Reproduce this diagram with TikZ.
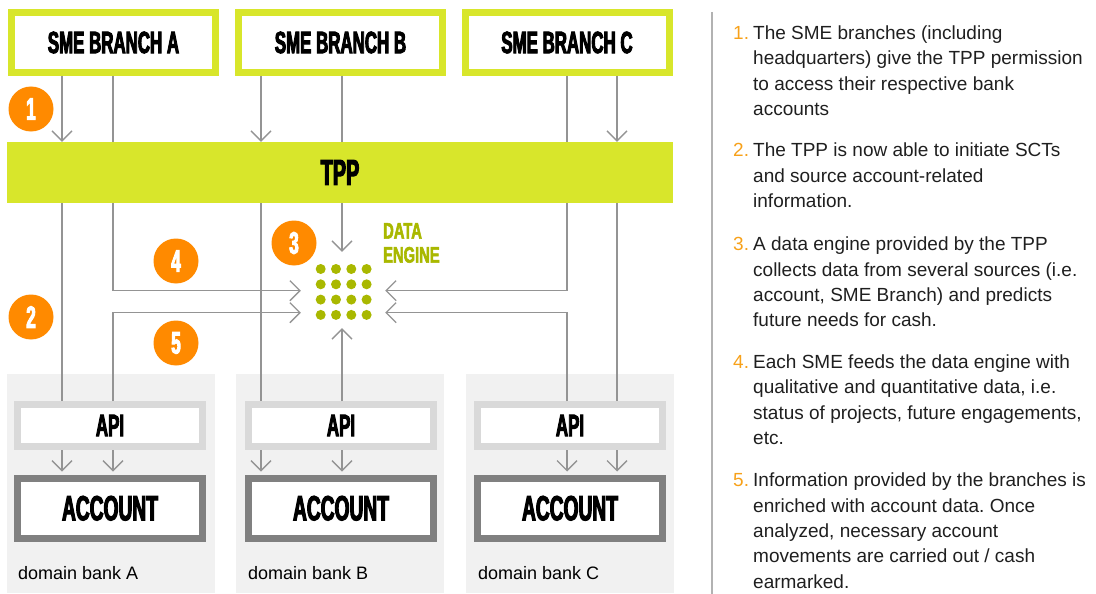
\documentclass[tikz,border=0pt]{standalone}
\usepackage{fontspec}
\setmainfont{Liberation Sans}
\newfontfamily\headfont[FakeStretch=0.55,BoldFeatures={FakeBold=3}]{Liberation Sans}
\newfontfamily\tagfont[FakeStretch=0.66,BoldFeatures={FakeBold=2.5}]{Liberation Sans}
\usetikzlibrary{arrows.meta}
\frenchspacing

\definecolor{tppgreen}{HTML}{D8E62B}
\definecolor{enginegreen}{HTML}{A9B800}
\definecolor{badgeorange}{HTML}{FF8A00}
\definecolor{listorange}{HTML}{F7A11A}
\definecolor{linegray}{HTML}{949494}
\definecolor{apigray}{HTML}{D9D9D9}
\definecolor{accgray}{HTML}{808080}
\definecolor{domgray}{HTML}{F1F1F1}

\begin{document}
\begin{tikzpicture}[x=1pt, y=-1pt,
    branch/.style={draw=tppgreen, line width=7pt, fill=white, minimum width=204pt, minimum height=60pt, inner sep=0pt, font=\headfont\bfseries\fontsize{30.7}{31}\selectfont},
    tppbar/.style={fill=tppgreen, minimum width=666pt, minimum height=61pt, inner sep=0pt, font=\headfont\bfseries\fontsize{36}{36}\selectfont},
    api/.style={draw=apigray, line width=7pt, fill=white, minimum width=185pt, minimum height=42pt, inner sep=0pt, font=\headfont\bfseries\fontsize{30.7}{31}\selectfont},
    account/.style={draw=accgray, line width=7pt, fill=white, minimum width=185pt, minimum height=60.5pt, inner sep=0pt, font=\headfont\bfseries\fontsize{34.9}{35}\selectfont},
    bankbox/.style={fill=domgray, minimum width=208pt, minimum height=219pt, inner sep=0pt},
    domlabel/.style={anchor=base west, inner sep=0pt, font=\fontsize{18}{20}\selectfont},
    engine/.style={minimum width=84pt, minimum height=76pt, inner sep=0pt},
    badge/.style={circle, fill=badgeorange, text=white, minimum size=45pt, inner sep=0pt, font=\headfont\bfseries\fontsize{31}{31}\selectfont},
    englabel/.style={anchor=north west, align=left, inner sep=0pt, text=enginegreen, font=\tagfont\bfseries\fontsize{22.3}{24}\selectfont},
    conn/.style={draw=linegray, line width=1.3pt},
    arr/.style={conn, -{Straight Barb[length=10pt,width=20pt]}},
    item/.style={anchor=north west, align=left, inner sep=0pt, text=black!88, font=\fontsize{19}{25.3}\selectfont},
    numlbl/.style={anchor=base west, inner sep=0pt, text=listorange, font=\fontsize{19}{25.3}\selectfont}]
    \useasboundingbox (0,0) rectangle (1096,594);

    % bank domains
    \node[bankbox] (domA) at (111,483.5) {};
    \node[bankbox] (domB) at (340,483.5) {};
    \node[bankbox] (domC) at (569.5,483.5) {};
    \node[domlabel] (labA) at (18,579) {domain bank A};
    \node[domlabel] (labB) at (248,579) {domain bank B};
    \node[domlabel] (labC) at (478,579) {domain bank C};

    \node[api] (apiA) at (110,425.5) {API};
    \node[api] (apiB) at (341,425.5) {API};
    \node[api] (apiC) at (570,425.5) {API};
    \node[account] (accA) at (110,508.25) {ACCOUNT};
    \node[account] (accB) at (341,508.25) {ACCOUNT};
    \node[account] (accC) at (570,508.25) {ACCOUNT};

    % branches and TPP
    \node[branch] (brA) at (113.5,42.5) {SME BRANCH A};
    \node[branch] (brB) at (340.5,42.5) {SME BRANCH B};
    \node[branch] (brC) at (567,42.5) {SME BRANCH C};
    \node[tppbar] (tpp) at (340,172.5) {TPP};

    % data engine
    \node[engine] (eng) at (343,290) {};
    \foreach \i in {0,...,3}
        \foreach \j in {0,...,3}
            \fill[enginegreen] (320.7+15.3*\i, 269+15.3*\j) circle (5pt);
    \node[englabel] (englbl) at (383,223) {DATA\\ENGINE};

    \coordinate (colA1) at (62,0);
    \coordinate (colA2) at (113,0);
    \coordinate (colB1) at (261,0);
    \coordinate (colB2) at (342,0);
    \coordinate (colC1) at (567,0);
    \coordinate (colC2) at (617,0);
    \coordinate (rowup) at (0,290.7);
    \coordinate (rowlow) at (0,312.7);

    % branches -> TPP
    \draw[arr] (brA.south -| colA1) -- (tpp.north -| colA1);
    \draw[conn] (brA.south -| colA2) -- (tpp.north -| colA2);
    \draw[arr] (brB.south -| colB1) -- (tpp.north -| colB1);
    \draw[conn] (brB.south -| colB2) -- (tpp.north -| colB2);
    \draw[conn] (brC.south -| colC1) -- (tpp.north -| colC1);
    \draw[arr] (brC.south -| colC2) -- (tpp.north -| colC2);

    % TPP -> API
    \draw[conn] (tpp.south -| colA1) -- (apiA.north -| colA1);
    \draw[conn] (tpp.south -| colB1) -- (apiB.north -| colB1);
    \draw[conn] (tpp.south -| colC2) -- (apiC.north -| colC2);

    % into the data engine
    \draw[arr] (tpp.south -| colA2) |- (eng.west |- rowup);
    \draw[arr] (tpp.south -| colB2) -- (eng.north -| colB2);
    \draw[arr] (tpp.south -| colC1) |- (eng.east |- rowup);
    \draw[arr] (apiA.north -| colA2) |- (eng.west |- rowlow);
    \draw[arr] (apiB.north -| colB2) -- (eng.south -| colB2);
    \draw[arr] (apiC.north -| colC1) |- (eng.east |- rowlow);

    % API -> account
    \foreach \b in {A,B,C} {
        \draw[arr, shorten >=3pt] (api\b.south -| col\b1) -- (acc\b.north -| col\b1);
        \draw[arr, shorten >=3pt] (api\b.south -| col\b2) -- (acc\b.north -| col\b2);
    }

    \node[badge] (b1) at (31,109) {1};
    \node[badge] (b2) at (31,317) {2};
    \node[badge] (b3) at (294,243) {3};
    \node[badge] (b4) at (176,261) {4};
    \node[badge] (b5) at (176,343) {5};

    % legend
    \draw[draw=gray!60, line width=2pt] (712,12) -- (712,594);
    \foreach \n/\y in {1/39.3,2/156.7,3/250.7,4/368.3,5/486.7}
        \node[numlbl] (num\n) at (733,\y) {\n.};
    \node[item] (it1) at (753,21.6) {\strut The SME branches (including\\headquarters) give the TPP permission\\to access their respective bank\\accounts};
    \node[item] (it2) at (753,139) {\strut The TPP is now able to initiate SCTs\\and source account-related\\information.};
    \node[item] (it3) at (753,233) {\strut A data engine provided by the TPP\\collects data from several sources (i.e.\\account, SME Branch) and predicts\\future needs for cash.};
    \node[item] (it4) at (753,350.6) {\strut Each SME feeds the data engine with\\qualitative and quantitative data, i.e.\\status of projects, future engagements,\\etc.};
    \node[item] (it5) at (753,469) {\strut Information provided by the branches is\\enriched with account data. Once\\analyzed, necessary account\\movements are carried out / cash\\earmarked.};
\end{tikzpicture}
\end{document}
